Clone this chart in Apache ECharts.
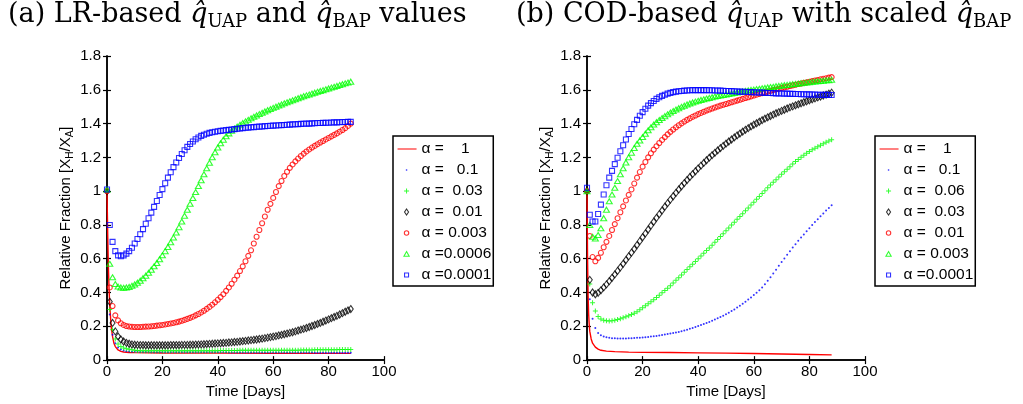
<!DOCTYPE html>
<html>
<head>
<meta charset="utf-8">
<script src="https://cdn.jsdelivr.net/npm/echarts@6/dist/echarts.min.js"></script>
<style>
html,body{margin:0;padding:0;background:#fff;}
#chart{width:1023px;height:404px;}
</style>
</head>
<body>
<div id="chart"></div>
<script>
// ---------------- DATA (index = day) ----------------
const xTicks = [0, 20, 40, 60, 80, 100];
const yTicks = [0, 0.2, 0.4, 0.6, 0.8, 1, 1.2, 1.4, 1.6, 1.8];

// Panel (a) legend labels
const labelsA = ['\u03b1 =    1', '\u03b1 =   0.1', '\u03b1 =  0.03', '\u03b1 =  0.01', '\u03b1 = 0.003', '\u03b1 =0.0006', '\u03b1 =0.0001'];
// Panel (b) legend labels
const labelsB = ['\u03b1 =    1', '\u03b1 =   0.1', '\u03b1 =  0.06', '\u03b1 =  0.03', '\u03b1 =  0.01', '\u03b1 = 0.003', '\u03b1 =0.0001'];

// (a) alpha = 1 : [day, value]
const A_line = [[0,1.0],[0.25,0.75],[0.5,0.55],[0.75,0.42],[1,0.32],[1.5,0.2],[2,0.14],[2.5,0.1],[3,0.08],[4,0.06],[5,0.052],[6,0.048],[8,0.045],[10,0.044],[20,0.042],[40,0.041],[60,0.04],[88,0.04]];
// (a) alpha = 0.1
const A_dot = [1.0,0.27,0.15,0.10,0.075,0.063,0.057,0.053,0.051,0.05,
0.049,0.049,0.048,0.048,0.048,0.048,0.047,0.047,0.047,0.047,
0.047,0.047,0.046,0.046,0.046,0.046,0.046,0.046,0.046,0.046,
0.046,0.046,0.046,0.046,0.046,0.046,0.046,0.046,0.046,0.046,
0.046,0.046,0.046,0.046,0.045,0.045,0.045,0.045,0.045,0.045,
0.045,0.045,0.045,0.045,0.045,0.045,0.045,0.045,0.045,0.045,
0.045,0.045,0.045,0.045,0.045,0.045,0.045,0.045,0.045,0.045,
0.045,0.045,0.045,0.045,0.045,0.044,0.044,0.044,0.044,0.044,
0.044,0.044,0.044,0.044,0.044,0.044,0.044,0.044,0.044];
// (a) alpha = 0.03
const A_plus = [1.0,0.30,0.18,0.125,0.095,0.08,0.072,0.067,0.064,0.062,
0.058,0.057,0.056,0.056,0.055,0.055,0.055,0.055,0.055,0.055,
0.055,0.055,0.055,0.055,0.055,0.055,0.055,0.055,0.055,0.055,
0.055,0.055,0.055,0.055,0.056,0.056,0.056,0.056,0.056,0.056,
0.056,0.057,0.057,0.057,0.057,0.057,0.057,0.057,0.058,0.058,
0.058,0.058,0.058,0.058,0.058,0.058,0.058,0.058,0.058,0.058,
0.059,0.059,0.059,0.059,0.059,0.059,0.059,0.059,0.059,0.059,
0.06,0.06,0.06,0.06,0.06,0.061,0.061,0.061,0.061,0.061,
0.062,0.062,0.062,0.062,0.063,0.063,0.063,0.063,0.063];
// (a) alpha = 0.01
const A_dia = [1.0,0.345,0.22,0.17,0.14,0.122,0.11,0.102,0.097,0.093,
0.091,0.09,0.089,0.089,0.088,0.088,0.088,0.088,0.088,0.088,
0.088,0.088,0.088,0.089,0.089,0.089,0.089,0.09,0.09,0.09,
0.091,0.091,0.092,0.092,0.093,0.094,0.095,0.096,0.097,0.098,
0.099,0.10,0.101,0.102,0.104,0.105,0.107,0.108,0.11,0.112,
0.114,0.116,0.118,0.12,0.122,0.125,0.127,0.13,0.133,0.136,
0.139,0.142,0.146,0.149,0.153,0.157,0.161,0.165,0.17,0.175,
0.18,0.185,0.19,0.196,0.202,0.208,0.214,0.22,0.227,0.234,
0.241,0.248,0.255,0.262,0.27,0.278,0.286,0.294,0.302];
// (a) alpha = 0.003
const A_circ = [1.0,0.43,0.32,0.265,0.235,0.218,0.208,0.202,0.199,0.197,
0.196,0.196,0.196,0.197,0.198,0.199,0.20,0.202,0.204,0.206,
0.208,0.211,0.214,0.217,0.22,0.224,0.228,0.233,0.238,0.244,
0.25,0.257,0.265,0.273,0.282,0.292,0.303,0.315,0.328,0.342,
0.357,0.373,0.39,0.41,0.43,0.452,0.476,0.50,0.527,0.555,
0.585,0.617,0.65,0.69,0.73,0.77,0.81,0.85,0.89,0.925,
0.96,0.995,1.03,1.06,1.09,1.115,1.138,1.158,1.176,1.193,
1.208,1.222,1.235,1.247,1.258,1.268,1.278,1.288,1.297,1.306,
1.315,1.324,1.333,1.342,1.352,1.362,1.373,1.386,1.40];
// (a) alpha = 0.0006
const A_tri = [1.01,0.57,0.49,0.45,0.435,0.43,0.428,0.43,0.433,0.44,
0.448,0.458,0.47,0.485,0.50,0.517,0.535,0.555,0.575,0.597,
0.62,0.645,0.67,0.697,0.725,0.755,0.787,0.82,0.855,0.89,
0.925,0.96,0.995,1.03,1.065,1.10,1.135,1.168,1.20,1.23,
1.258,1.283,1.305,1.325,1.342,1.357,1.37,1.382,1.393,1.403,
1.413,1.422,1.431,1.44,1.448,1.456,1.464,1.472,1.479,1.486,
1.493,1.50,1.507,1.513,1.52,1.526,1.532,1.538,1.544,1.55,
1.556,1.562,1.567,1.572,1.578,1.583,1.588,1.593,1.598,1.603,
1.608,1.613,1.618,1.623,1.628,1.633,1.638,1.643,1.648];
// (a) alpha = 0.0001
const A_sq = [1.01,0.80,0.70,0.645,0.62,0.615,0.62,0.63,0.645,0.665,
0.69,0.717,0.745,0.775,0.807,0.84,0.873,0.907,0.942,0.977,
1.012,1.047,1.08,1.112,1.142,1.17,1.196,1.22,1.242,1.262,
1.279,1.294,1.307,1.318,1.327,1.334,1.34,1.345,1.349,1.352,
1.355,1.357,1.359,1.361,1.363,1.365,1.367,1.369,1.371,1.373,
1.375,1.376,1.378,1.379,1.381,1.382,1.383,1.385,1.386,1.387,
1.388,1.389,1.39,1.391,1.392,1.393,1.394,1.395,1.396,1.397,
1.398,1.399,1.40,1.40,1.401,1.402,1.403,1.403,1.404,1.405,
1.405,1.406,1.407,1.407,1.408,1.409,1.409,1.41,1.41];

// (b) alpha = 1 : [day, value]
const B_line = [[0,1.0],[0.2,0.6],[0.4,0.38],[0.6,0.27],[0.8,0.21],[1,0.17],[1.5,0.125],[2,0.10],[3,0.077],[4,0.065],[5,0.058],[7,0.053],[10,0.05],[15,0.047],[20,0.046],[30,0.045],[40,0.043],[50,0.041],[60,0.039],[70,0.036],[80,0.033],[88,0.031]];
// (b) alpha = 0.1
const B_dot = [1.0,0.36,0.245,0.19,0.16,0.147,0.14,0.135,0.132,0.13,
0.129,0.128,0.128,0.128,0.128,0.129,0.13,0.131,0.132,0.133,
0.134,0.135,0.137,0.139,0.141,0.143,0.145,0.148,0.151,0.154,
0.157,0.16,0.163,0.167,0.171,0.175,0.18,0.185,0.19,0.196,
0.202,0.208,0.214,0.22,0.226,0.233,0.24,0.247,0.255,0.263,
0.271,0.28,0.29,0.30,0.311,0.322,0.334,0.346,0.358,0.371,
0.385,0.399,0.414,0.43,0.449,0.469,0.49,0.512,0.535,0.558,
0.58,0.602,0.624,0.645,0.666,0.686,0.706,0.725,0.744,0.763,
0.781,0.799,0.817,0.834,0.851,0.868,0.885,0.901,0.917];
// (b) alpha = 0.06
const B_plus = [1.0,0.45,0.34,0.29,0.258,0.243,0.236,0.233,0.232,0.233,
0.236,0.24,0.245,0.25,0.256,0.263,0.27,0.278,0.286,0.298,
0.31,0.321,0.333,0.345,0.357,0.37,0.384,0.398,0.412,0.426,
0.44,0.456,0.472,0.488,0.504,0.52,0.536,0.552,0.568,0.584,
0.60,0.616,0.632,0.648,0.664,0.68,0.697,0.714,0.731,0.748,
0.765,0.782,0.799,0.816,0.833,0.85,0.867,0.884,0.901,0.918,
0.935,0.952,0.969,0.986,1.003,1.02,1.036,1.052,1.068,1.084,
1.10,1.115,1.13,1.145,1.16,1.175,1.188,1.20,1.212,1.224,
1.235,1.245,1.254,1.263,1.272,1.28,1.289,1.297,1.305];
// (b) alpha = 0.03
const B_dia = [1.0,0.475,0.40,0.39,0.398,0.413,0.43,0.448,0.467,0.487,
0.507,0.528,0.549,0.57,0.592,0.614,0.636,0.658,0.681,0.704,
0.727,0.75,0.773,0.796,0.819,0.842,0.864,0.886,0.908,0.929,
0.95,0.97,0.99,1.01,1.029,1.048,1.066,1.084,1.101,1.118,
1.135,1.151,1.167,1.183,1.198,1.213,1.227,1.241,1.255,1.268,
1.281,1.294,1.306,1.318,1.33,1.341,1.352,1.363,1.373,1.383,
1.393,1.402,1.411,1.42,1.429,1.437,1.445,1.453,1.461,1.468,
1.475,1.482,1.489,1.496,1.502,1.508,1.514,1.52,1.526,1.532,
1.538,1.544,1.549,1.555,1.56,1.566,1.571,1.577,1.583];
// (b) alpha = 0.01
const B_circ = [1.0,0.735,0.61,0.585,0.605,0.635,0.668,0.70,0.735,0.77,
0.805,0.84,0.875,0.91,0.945,0.978,1.01,1.045,1.08,1.113,
1.145,1.173,1.2,1.224,1.246,1.266,1.285,1.303,1.32,1.336,
1.351,1.365,1.378,1.39,1.401,1.412,1.422,1.431,1.44,1.448,
1.456,1.463,1.47,1.477,1.483,1.489,1.495,1.501,1.506,1.511,
1.516,1.521,1.526,1.531,1.536,1.541,1.546,1.551,1.556,1.561,
1.566,1.571,1.576,1.58,1.585,1.59,1.594,1.598,1.602,1.606,
1.61,1.614,1.618,1.622,1.626,1.63,1.634,1.637,1.641,1.644,
1.648,1.651,1.655,1.658,1.662,1.665,1.668,1.672,1.675];
// (b) alpha = 0.003
const B_tri = [1.0,0.80,0.73,0.72,0.74,0.78,0.84,0.89,0.94,0.98,
1.02,1.06,1.10,1.135,1.17,1.20,1.228,1.255,1.28,1.30,
1.32,1.34,1.36,1.378,1.394,1.408,1.421,1.433,1.444,1.455,
1.465,1.474,1.483,1.491,1.499,1.506,1.513,1.519,1.525,1.53,
1.535,1.54,1.544,1.548,1.552,1.556,1.56,1.563,1.566,1.569,
1.572,1.575,1.578,1.581,1.584,1.587,1.59,1.593,1.596,1.599,
1.601,1.604,1.606,1.609,1.611,1.614,1.616,1.618,1.621,1.623,
1.625,1.627,1.629,1.631,1.633,1.635,1.637,1.639,1.641,1.643,
1.645,1.647,1.649,1.651,1.652,1.654,1.656,1.657,1.659];
// (b) alpha = 0.0001
const B_sq = [1.02,0.86,0.82,0.82,0.865,0.92,0.98,1.035,1.08,1.12,
1.16,1.198,1.236,1.272,1.306,1.338,1.368,1.396,1.422,1.446,
1.468,1.488,1.506,1.521,1.534,1.546,1.556,1.564,1.571,1.577,
1.582,1.586,1.589,1.591,1.593,1.595,1.596,1.597,1.598,1.598,
1.598,1.598,1.598,1.598,1.597,1.597,1.596,1.596,1.595,1.594,
1.593,1.593,1.592,1.591,1.59,1.589,1.588,1.588,1.587,1.586,
1.585,1.584,1.584,1.583,1.582,1.581,1.581,1.58,1.579,1.579,
1.578,1.577,1.577,1.576,1.576,1.575,1.575,1.574,1.574,1.573,
1.573,1.572,1.572,1.571,1.571,1.57,1.57,1.57,1.569];

// ---------------- STYLES ----------------
const RED = '#ff0000', GREEN = '#00ff00', BLUE = '#0000ff', BLACK = '#000000';
const FRAME = 'M0,0M20,14'; // legend icon frame (itemWidth x itemHeight)
const STY = {
  line: {color: RED, fill: true, legendIcon: 'path://' + FRAME + 'M1,6.5H20V7.5H1Z'},
  dot:  {color: BLUE, fill: true, symbol: 'circle', size: 2, legendIcon: 'path://' + FRAME + 'M9.3,6.3H10.7V7.7H9.3Z'},
  plus: {color: GREEN, fill: true, symbol: 'path://M2,0H3V5H2ZM0,2H5V3H0Z', size: 5, legendIcon: 'path://' + FRAME + 'M9.5,4.5H10.5V9.5H9.5ZM7.5,6.5H12.5V7.5H7.5Z'},
  dia:  {color: BLACK, fill: false, symbol: 'diamond', size: [5, 7], legendIcon: 'path://' + FRAME + 'M10,4L12,7L10,10L8,7Z'},
  circ: {color: RED, fill: false, symbol: 'circle', size: 5, legendIcon: 'path://' + FRAME + 'M12.2,7A2.2,2.2,0,1,1,7.8,7A2.2,2.2,0,1,1,12.2,7Z'},
  tri:  {color: GREEN, fill: false, symbol: 'triangle', size: [6, 5], legendIcon: 'path://' + FRAME + 'M10,4.6L12.6,9.2L7.4,9.2Z'},
  sq:   {color: BLUE, fill: false, symbol: 'rect', size: 5, legendIcon: 'path://' + FRAME + 'M8,5H12V9H8Z'}
};

const panelA = [
  {name: 'a0', kind: 'line', data: A_line},
  {name: 'a1', kind: 'dot', data: A_dot},
  {name: 'a2', kind: 'plus', data: A_plus},
  {name: 'a3', kind: 'dia', data: A_dia},
  {name: 'a4', kind: 'circ', data: A_circ},
  {name: 'a5', kind: 'tri', data: A_tri},
  {name: 'a6', kind: 'sq', data: A_sq}
];
const panelB = [
  {name: 'b0', kind: 'line', data: B_line},
  {name: 'b1', kind: 'dot', data: B_dot},
  {name: 'b2', kind: 'plus', data: B_plus},
  {name: 'b3', kind: 'dia', data: B_dia},
  {name: 'b4', kind: 'circ', data: B_circ},
  {name: 'b5', kind: 'tri', data: B_tri},
  {name: 'b6', kind: 'sq', data: B_sq}
];
const labelMap = {};
panelA.forEach((s, i) => labelMap[s.name] = labelsA[i]);
panelB.forEach((s, i) => labelMap[s.name] = labelsB[i]);

function toPairs(arr) { return arr.map((v, i) => Array.isArray(v) ? v : [i, v]); }

function makeSeries(s, axisIdx) {
  const st = STY[s.kind];
  if (s.kind === 'line') {
    return {
      name: s.name, type: 'line', xAxisIndex: axisIdx, yAxisIndex: axisIdx,
      data: toPairs(s.data), showSymbol: false, symbol: 'none', smooth: false,
      lineStyle: {color: st.color, width: 1.4}, itemStyle: {color: st.color},
      silent: true, z: 2
    };
  }
  return {
    name: s.name, type: 'scatter', xAxisIndex: axisIdx, yAxisIndex: axisIdx,
    data: toPairs(s.data), symbol: st.symbol, symbolSize: st.size,
    itemStyle: st.fill ? {color: st.color, borderWidth: 0}
                       : {color: 'rgba(0,0,0,0)', borderColor: st.color, borderWidth: 1.1},
    silent: true, z: 2
  };
}

function legendData(panel) {
  return panel.map(s => {
    const st = STY[s.kind];
    return {
      name: s.name, icon: st.legendIcon,
      itemStyle: st.fill ? {color: st.color, borderWidth: 0}
                         : {color: 'rgba(0,0,0,0)', borderColor: st.color, borderWidth: 1.1}
    };
  });
}

const SANS = 'Liberation Sans';
const SERIF = 'DejaVu Serif';

function legendCfg(panel, left) {
  return {
    data: legendData(panel), orient: 'vertical', left: left, top: 136,
    itemWidth: 20, itemHeight: 14, itemGap: 5,
    padding: [5, 2, 3, 3], borderColor: '#000', borderWidth: 1.5, backgroundColor: '#fff',
    selectedMode: false,
    formatter: name => labelMap[name],
    textStyle: {fontFamily: SANS, fontSize: 15.5, lineHeight: 14, color: '#000'}
  };
}

const axisLineStyle = {show: true, lineStyle: {color: '#000', width: 1.5}};
const tickStyle = {show: true, inside: true, length: 4, lineStyle: {color: '#000', width: 1.2}};
const labelStyle = {fontFamily: SANS, fontSize: 15, color: '#000'};

function xAxes(grid) {
  return [
    {type: 'value', gridIndex: grid, position: 'bottom', min: xTicks[0], max: xTicks[xTicks.length - 1], interval: xTicks[1] - xTicks[0],
     axisLine: axisLineStyle, axisTick: tickStyle, splitLine: {show: false},
     axisLabel: Object.assign({margin: 4}, labelStyle),
     name: 'Time [Days]', nameLocation: 'middle', nameGap: 17,
     nameTextStyle: {fontFamily: SANS, fontSize: 15, color: '#000'}},
    {type: 'value', gridIndex: grid, position: 'top', min: xTicks[0], max: xTicks[xTicks.length - 1], interval: xTicks[1] - xTicks[0],
     axisLine: axisLineStyle, axisTick: tickStyle, splitLine: {show: false}, axisLabel: {show: false}}
  ];
}
function yAxes(grid) {
  return [
    {type: 'value', gridIndex: grid, position: 'left', min: yTicks[0], max: yTicks[yTicks.length - 1], interval: yTicks[1] - yTicks[0],
     axisLine: axisLineStyle, axisTick: tickStyle, splitLine: {show: false},
     axisLabel: Object.assign({margin: 6, formatter: v => String(Math.round(v * 10) / 10)}, labelStyle),
     name: '{t|Relative Fraction [X}{s|H}{t|/X}{s|A}{t|]}', nameLocation: 'middle', nameGap: 33,
     nameTextStyle: {rich: {
       t: {fontFamily: SANS, fontSize: 15, lineHeight: 16, color: '#000'},
       s: {fontFamily: SANS, fontSize: 10, lineHeight: 10, padding: [9, 0, 0, 0], color: '#000'}
     }}},
    {type: 'value', gridIndex: grid, position: 'right', min: yTicks[0], max: yTicks[yTicks.length - 1], interval: yTicks[1] - yTicks[0],
     axisLine: axisLineStyle, axisTick: tickStyle, splitLine: {show: false}, axisLabel: {show: false}}
  ];
}

const titleRich = {
  r: {fontFamily: SERIF, fontWeight: 'normal', fontSize: 27, lineHeight: 28, color: '#000'},
  i: {fontFamily: SERIF, fontWeight: 'normal', fontStyle: 'italic', fontSize: 27, lineHeight: 28, color: '#000'},
  s: {fontFamily: SERIF, fontWeight: 'normal', fontSize: 18, lineHeight: 18, padding: [14, 0, 0, 0], color: '#000'}
};

const option = {
  animation: false,
  backgroundColor: '#fff',
  title: [
    {text: '{r|(a) LR-based }{i|q\u0302}{s|UAP}{r| and }{i|q\u0302}{s|BAP}{r| values}', left: 8, top: 1,
     padding: 0, textStyle: {fontWeight: 'normal', rich: titleRich}},
    {text: '{r|(b) COD-based }{i|q\u0302}{s|UAP}{r| with scaled }{i|q\u0302}{s|BAP}', left: 516, top: 1,
     padding: 0, textStyle: {fontWeight: 'normal', rich: titleRich}}
  ],
  grid: [
    {left: 107, top: 56, width: 277, height: 308},
    {left: 587, top: 56, width: 278, height: 308}
  ],
  xAxis: xAxes(0).concat(xAxes(1)),
  yAxis: yAxes(0).concat(yAxes(1)),
  legend: [legendCfg(panelA, 393), legendCfg(panelB, 875)],
  series: panelA.map(s => makeSeries(s, 0)).concat(panelB.map(s => makeSeries(s, 2)))
};

const chart = echarts.init(document.getElementById('chart'), null, {renderer: 'canvas'});
chart.setOption(option);
</script>
</body>
</html>
